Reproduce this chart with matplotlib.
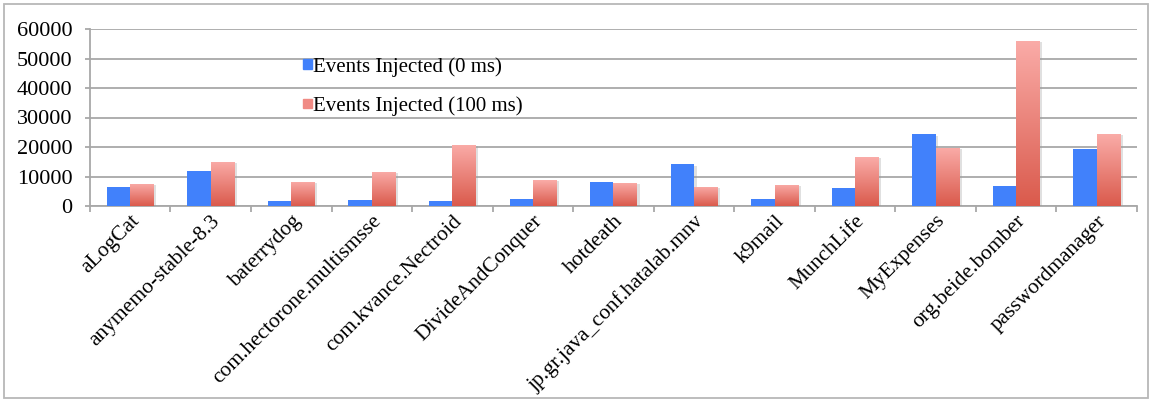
import matplotlib
matplotlib.use('Agg')
import matplotlib.pyplot as plt
import matplotlib.patheffects as pe
from matplotlib.colors import LinearSegmentedColormap
from matplotlib.patches import Rectangle
import numpy as np

apps = ['aLogCat', 'anymemo-stable-8.3', 'baterrydog', 'com.hectorone.multismsse',
        'com.kvance.Nectroid', 'DivideAndConquer', 'hotdeath',
        'jp.gr.java_conf.hatalab.mnv', 'k9mail', 'MunchLife', 'MyExpenses',
        'org.beide.bomber', 'passwordmanager']
events_0ms = [6400, 12000, 1600, 1900, 1600, 2400, 8200, 14100, 2300, 6000, 24300, 6800, 19400]
events_100ms = [7500, 15000, 8200, 11600, 20700, 8800, 7800, 6500, 7200, 16600, 19800, 56000, 24400]

plt.rcParams['font.family'] = ['Liberation Serif', 'DejaVu Serif']
grid_color = '#a8a8a8'
blue = '#4181fb'
red_map = LinearSegmentedColormap.from_list('red_grad', ['#da5a4c', '#faaca8'])

fig = plt.figure(figsize=(11.52, 4), dpi=100)
ax = fig.add_axes([0.078, 0.485, 0.909, 0.4425])

x = np.arange(len(apps))
w = 0.29
shadow = [pe.SimplePatchShadow(offset=(2, -1), shadow_rgbFace='#999999', alpha=0.3), pe.Normal()]

bars0 = ax.bar(x - w / 2, events_0ms, w, color=blue, zorder=3, path_effects=shadow)
bars1 = ax.bar(x + w / 2, events_100ms, w, color='#ee8a84', zorder=3, path_effects=shadow)

# vertical gradient inside each red bar
grad = np.linspace(0, 1, 256).reshape(-1, 1)
for b in bars1:
    x0, h = b.get_x(), b.get_height()
    im = ax.imshow(grad, cmap=red_map, origin='lower', aspect='auto',
                   extent=(x0, x0 + b.get_width(), 0, h), zorder=4)
    im.set_clip_path(b)

ax.set_xlim(-0.5, len(apps) - 0.5)
ax.set_ylim(0, 60000)
ax.set_yticks(np.arange(0, 60001, 10000))
ax.yaxis.grid(True, color=grid_color, linewidth=1.3)
ax.set_axisbelow(True)

ax.set_xticks(x)
ax.set_xticklabels(apps, rotation=45, ha='right', rotation_mode='anchor')
ax.set_xticks(np.arange(-0.5, len(apps)), minor=True)
ax.tick_params(axis='x', which='major', length=0, pad=4, labelsize=15.5)
ax.tick_params(axis='x', which='minor', length=4.5, color=grid_color, width=1.3)
ax.tick_params(axis='y', length=3.6, color=grid_color, width=1.3, labelsize=16, pad=9)

for s in ['top', 'right']:
    ax.spines[s].set_visible(False)
for s in ['left', 'bottom']:
    ax.spines[s].set_color(grid_color)
    ax.spines[s].set_linewidth(1.3)

handles = [Rectangle((0, 0), 1, 1, color=blue), Rectangle((0, 0), 1, 1, color='#f08a84')]
ax.legend(handles, ['Events Injected (0 ms)', 'Events Injected (100 ms)'],
          loc='upper left', bbox_to_anchor=(0.204, 0.842), frameon=False, fontsize=15,
          borderpad=0, borderaxespad=0,
          handlelength=0.42, handleheight=0.32, handletextpad=0.06, labelspacing=0.95)

fig.patches.append(Rectangle((4 / 1152, 2 / 400), 1144 / 1152, 394 / 400, transform=fig.transFigure,
                             fill=False, edgecolor='#b8b8b8', linewidth=1.3))

plt.savefig('out.png', dpi=100)
plt.close()
